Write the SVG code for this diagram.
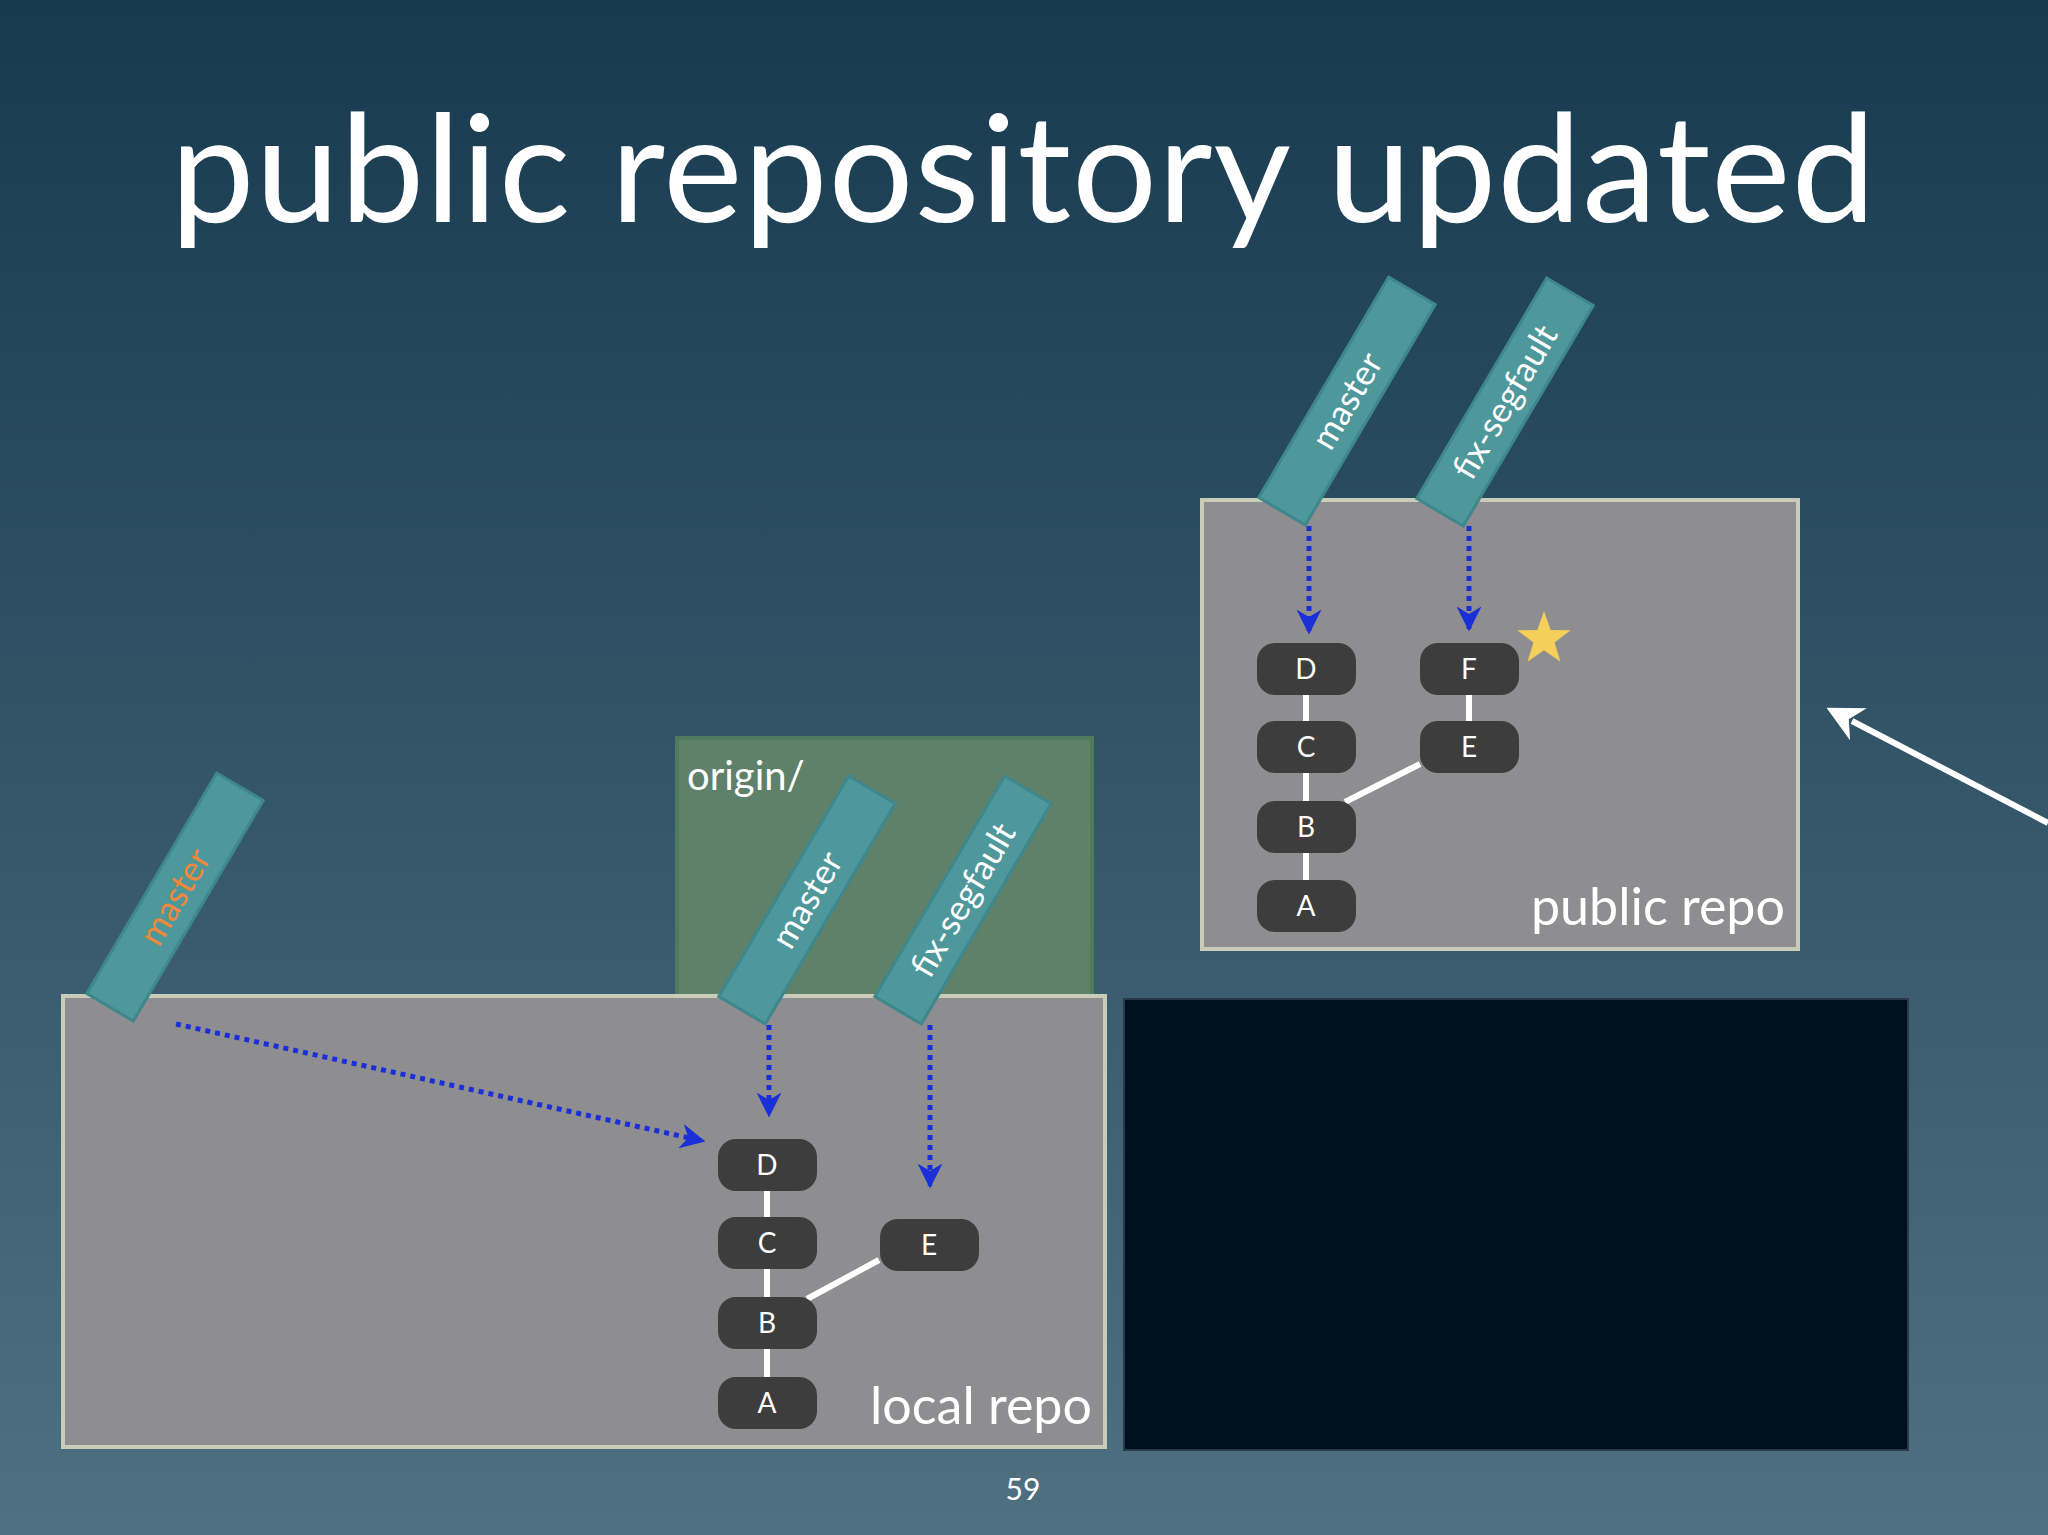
<svg xmlns="http://www.w3.org/2000/svg" width="2048" height="1535" viewBox="0 0 2048 1535">
<defs>
<linearGradient id="bg" x1="0" y1="0" x2="0" y2="1"><stop offset="0" stop-color="#183a50"/><stop offset="1" stop-color="#4f7080"/></linearGradient>
<marker id="ba" viewBox="0 0 10 10" refX="9" refY="5" markerWidth="5" markerHeight="5" orient="auto" markerUnits="strokeWidth"><path d="M0,0 L10,5 L0,10 L3,5 z" fill="#1a2fd8"/></marker>
<marker id="wa" viewBox="0 0 10 10" refX="2" refY="5" markerWidth="6" markerHeight="6" orient="auto" markerUnits="strokeWidth"><path d="M0,0 L10,5 L0,10 L3,5 z" fill="#fff"/></marker>
<style>
.t{font-family:"Lato","Open Sans",sans-serif;fill:#fff}
.repo{fill:#8e8d90;stroke:#c9ccb9;stroke-width:4}
.n rect{fill:#3d3d3d}
.n text{font-family:"Lato",sans-serif;fill:#fff;font-size:28px;text-anchor:middle}
.lab rect{fill:#4e979b;stroke:#3e878c;stroke-width:3}
.lab text{font-family:"Lato",sans-serif;fill:#fff;font-size:35px;text-anchor:middle}
.e{stroke:#fff;stroke-width:6}
.d{stroke:#1a2fd8;stroke-width:5;stroke-dasharray:5 5;fill:none;marker-end:url(#ba)}
</style>
</defs>
<rect width="2048" height="1535" fill="url(#bg)"/>
<text class="t" x="1023" y="222" font-size="150" text-anchor="middle" textLength="1705">public repository updated</text>
<g id="origin-box"><rect x="677" y="738" width="415" height="258" fill="#5f8069" stroke="#4e7a5d" stroke-width="4"/><text class="t" x="687" y="790" font-size="40">origin/</text></g>
<g id="local-repo"><rect class="repo" x="63" y="996" width="1042" height="451"/><text class="t" x="1092" y="1424" font-size="52" text-anchor="end">local repo</text></g>
<g id="terminal"><rect x="1124" y="999" width="784" height="451" fill="#01101f" stroke="#2a3a4a" stroke-width="2"/></g>
<g id="public-repo"><rect class="repo" x="1202" y="500" width="596" height="449"/><text class="t" x="1785" y="925" font-size="52" text-anchor="end">public repo</text></g>
<g id="connectors">
<line class="e" x1="1306" y1="669" x2="1306" y2="906"/>
<line class="e" x1="1469" y1="669" x2="1469" y2="747"/>
<line class="e" x1="1345" y1="802" x2="1420" y2="764"/>
<line class="e" x1="767" y1="1165" x2="767" y2="1403"/>
<line class="e" x1="807" y1="1299" x2="879" y2="1260"/>
<line class="d" x1="1309" y1="526" x2="1309" y2="632"/>
<line class="d" x1="1469" y1="526" x2="1469" y2="629"/>
<line class="d" x1="769" y1="1025" x2="769" y2="1115"/>
<line class="d" x1="930" y1="1025" x2="930" y2="1186"/>
<line class="d" x1="176" y1="1024" x2="703" y2="1141"/>
<line x1="2048" y1="823" x2="1852" y2="721" stroke="#fff" stroke-width="6" marker-end="url(#wa)"/>
</g>
<g id="pub-D" class="n"><rect x="1257" y="643" width="99" height="52" rx="18"/><text x="1306" y="679">D</text></g>
<g id="pub-C" class="n"><rect x="1257" y="721" width="99" height="52" rx="18"/><text x="1306" y="757">C</text></g>
<g id="pub-B" class="n"><rect x="1257" y="801" width="99" height="52" rx="18"/><text x="1306" y="837">B</text></g>
<g id="pub-A" class="n"><rect x="1257" y="880" width="99" height="52" rx="18"/><text x="1306" y="916">A</text></g>
<g id="pub-F" class="n"><rect x="1420" y="643" width="99" height="52" rx="18"/><text x="1469" y="679">F</text></g>
<g id="pub-E" class="n"><rect x="1420" y="721" width="99" height="52" rx="18"/><text x="1469" y="757">E</text></g>
<g id="loc-D" class="n"><rect x="718" y="1139" width="99" height="52" rx="18"/><text x="767" y="1175">D</text></g>
<g id="loc-C" class="n"><rect x="718" y="1217" width="99" height="52" rx="18"/><text x="767" y="1253">C</text></g>
<g id="loc-B" class="n"><rect x="718" y="1297" width="99" height="52" rx="18"/><text x="767" y="1333">B</text></g>
<g id="loc-A" class="n"><rect x="718" y="1377" width="99" height="52" rx="18"/><text x="767" y="1413">A</text></g>
<g id="loc-E" class="n"><rect x="880" y="1219" width="99" height="52" rx="18"/><text x="929" y="1255">E</text></g>
<g id="star"><polygon transform="translate(1544,639) scale(28)" points="0,-1 0.235,-0.324 0.951,-0.309 0.38,0.124 0.588,0.809 0,0.4 -0.588,0.809 -0.38,0.124 -0.951,-0.309 -0.235,-0.324" fill="#f4cf59"/></g>
<g id="lab-pub-master" class="lab" transform="translate(1347,401) rotate(-59.5)"><rect x="-128" y="-27" width="256" height="54"/><text y="12">master</text></g>
<g id="lab-pub-fix" class="lab" transform="translate(1505,402) rotate(-59.5)"><rect x="-128" y="-27" width="256" height="54"/><text y="12">fix-segfault</text></g>
<g id="lab-origin-master" class="lab" transform="translate(807,900) rotate(-59.5)"><rect x="-128" y="-27" width="256" height="54"/><text y="12">master</text></g>
<g id="lab-origin-fix" class="lab" transform="translate(963,900) rotate(-59.5)"><rect x="-128" y="-27" width="256" height="54"/><text y="12">fix-segfault</text></g>
<g id="lab-local-master" class="lab" transform="translate(175,897) rotate(-59.5)"><rect x="-128" y="-27" width="256" height="54"/><text y="12" style="fill:#f0873a">master</text></g>
<text class="t" x="1023" y="1500" font-size="30" text-anchor="middle">59</text>
</svg>
